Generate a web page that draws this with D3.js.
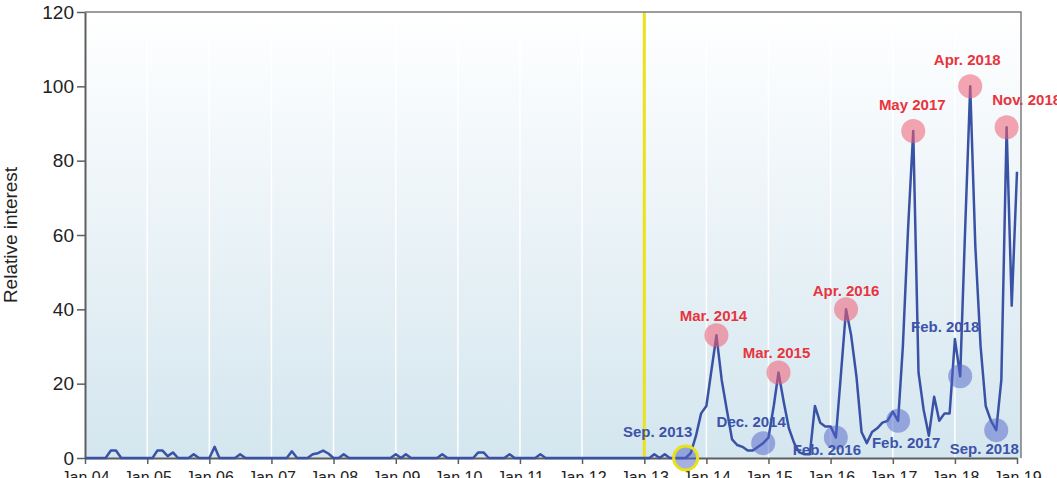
<!DOCTYPE html>
<html>
<head>
<meta charset="utf-8">
<script src="https://cdn.jsdelivr.net/npm/d3@7"></script>
<style>
  body { margin: 0; background: #fff; }
  svg { display: block; font-family: "Liberation Sans", Arial, Helvetica, sans-serif; }
</style>
</head>
<body>
<svg id="chart" width="1057" height="478"></svg>
<script>
// monthly relative interest, Jan 2004 .. Jan 2019
var interest = [
  0, 0, 0, 0, 0, 2, 2, 0, 0, 0, 0, 0,                 // 2004
  0, 0, 2, 2, 0.5, 1.5, 0, 0, 0, 1, 0, 0,             // 2005
  0, 3, 0, 0, 0, 0, 1, 0, 0, 0, 0, 0,                 // 2006
  0, 0, 0, 0, 1.8, 0, 0, 0, 1, 1.3, 2, 1.2,           // 2007
  0, 0, 1, 0, 0, 0, 0, 0, 0, 0, 0, 0,                 // 2008
  1, 0, 1, 0, 0, 0, 0, 0, 0, 1, 0, 0,                 // 2009
  0, 0, 0, 0, 1.5, 1.5, 0, 0, 0, 0, 1, 0,             // 2010
  0, 0, 0, 0, 1, 0, 0, 0, 0, 0, 0, 0,                 // 2011
  0, 0, 0, 0, 0, 0, 0, 0, 0, 0, 0, 0,                 // 2012
  0, 0, 1, 0, 1, 0, 0, 0, 0, 1.3, 6, 12,              // 2013
  14, 24, 33, 21, 13, 5, 3.5, 3, 2, 2, 3, 4,          // 2014
  5.5, 14, 23, 15, 8, 4, 1.5, 1, 1, 14, 9.5, 8.5,     // 2015
  8.5, 5.5, 22, 40, 33, 22, 7, 4, 7, 8, 9.5, 10,      // 2016
  12.5, 10, 30, 62, 88, 23, 13, 6, 16.5, 10, 12, 12,  // 2017
  32, 22, 60, 100, 57, 30, 14, 10, 7.5, 21, 89, 41,   // 2018
  77                                                  // 2019
];

var yTicks = [0, 20, 40, 60, 80, 100, 120];
var xTickLabels = ["Jan 04", "Jan 05", "Jan 06", "Jan 07", "Jan 08", "Jan 09", "Jan 10", "Jan 11",
                   "Jan 12", "Jan 13", "Jan 14", "Jan 15", "Jan 16", "Jan 17", "Jan 18", "Jan 19"];

// highlighted peaks (red) and dips (blue)
var peakLabels = ["Mar. 2014", "Mar. 2015", "Apr. 2016", "May 2017", "Apr. 2018", "Nov. 2018"];
var peakMonths = ["2014-03", "2015-03", "2016-04", "2017-05", "2018-04", "2018-11"];
var dipLabels = ["Sep. 2013", "Dec. 2014", "Feb. 2016", "Feb. 2017", "Feb. 2018", "Sep. 2018"];
var dipMonths = ["2013-09", "2014-12", "2016-02", "2017-02", "2018-02", "2018-09"];
var markerMonth = "2013-01";

// label offsets from the marked point (layout only)
var peakShift = [[-3, -14], [-2, -15], [0, -13], [-1, -21], [-3, -21], [20, -22]];
var dipShift = [[-28, -21], [-12, -16], [-9, 17], [8, 27], [-15, -44], [-12, 24]];

var svg = d3.select("#chart");
var margin = {left: 85, right: 1021, top: 12, bottom: 458};
var parseMonth = d3.timeParse("%Y-%m");
var start = new Date(2004, 0, 1);

var data = interest.map(function(v, i) {
  return {date: d3.timeMonth.offset(start, i), value: v};
});
function valueAt(m) {
  var d = parseMonth(m);
  var i = (d.getFullYear() - 2004) * 12 + d.getMonth();
  return {date: d, value: interest[i]};
}

var x = d3.scaleTime().domain([start, new Date(2019, 0, 1)]).range([margin.left, 1017]);
var y = d3.scaleLinear().domain([0, 120]).range([margin.bottom, margin.top]);
var tickDates = xTickLabels.map(function(l, i) { return new Date(2004 + i, 0, 1); });

// background gradient
var defs = svg.append("defs");
var grad = defs.append("linearGradient").attr("id", "bg").attr("x1", 0).attr("y1", 0).attr("x2", 0).attr("y2", 1);
grad.append("stop").attr("offset", "0%").attr("stop-color", "#ffffff");
grad.append("stop").attr("offset", "100%").attr("stop-color", "#d4e6ef");

svg.append("rect")
  .attr("x", margin.left).attr("y", margin.top)
  .attr("width", margin.right - margin.left).attr("height", margin.bottom - margin.top)
  .attr("fill", "url(#bg)");

// white vertical grid at each year
svg.append("g").selectAll("line").data(tickDates.slice(1, -1)).enter().append("line")
  .attr("x1", function(d) { return x(d); }).attr("x2", function(d) { return x(d); })
  .attr("y1", margin.top).attr("y2", margin.bottom)
  .attr("stroke", "#ffffff").attr("stroke-width", 1.5);

// yellow marker line
svg.append("line")
  .attr("x1", x(parseMonth(markerMonth))).attr("x2", x(parseMonth(markerMonth)))
  .attr("y1", margin.top).attr("y2", margin.bottom)
  .attr("stroke", "#ece21a").attr("stroke-width", 3);

// frame top / right
svg.append("path")
  .attr("d", "M" + margin.left + "," + margin.top + "H" + margin.right + "V" + margin.bottom)
  .attr("fill", "none").attr("stroke", "#7d7d7d").attr("stroke-width", 1.5);

// axes
var yAxis = svg.append("g")
  .attr("transform", "translate(" + margin.left + ",0)")
  .call(d3.axisLeft(y).tickValues(yTicks).tickSize(8).tickSizeOuter(0).tickPadding(3));
var xAxis = svg.append("g")
  .attr("transform", "translate(0," + margin.bottom + ")")
  .call(d3.axisBottom(x).tickValues(tickDates).tickSize(6).tickSizeOuter(0).tickPadding(8)
    .tickFormat(function(d, i) { return xTickLabels[i]; }));

[yAxis, xAxis].forEach(function(a) {
  a.select(".domain").attr("stroke", "#5e5e5e").attr("stroke-width", 2);
  a.selectAll(".tick line").attr("stroke", "#5e5e5e").attr("stroke-width", 1.5);
  a.selectAll(".tick text").attr("fill", "#222").attr("font-family", null);
});
yAxis.selectAll(".tick text").attr("font-size", 19);
xAxis.selectAll(".tick text").attr("font-size", 16);

svg.append("text")
  .attr("transform", "translate(17,235) rotate(-90)")
  .attr("text-anchor", "middle")
  .attr("font-size", 19)
  .attr("fill", "#222")
  .text("Relative interest");

// the series
var line = d3.line()
  .x(function(d) { return x(d.date); })
  .y(function(d) { return y(d.value); });

svg.append("path")
  .datum(data)
  .attr("d", line)
  .attr("fill", "none")
  .attr("stroke", "#3a52a6")
  .attr("stroke-width", 2.5)
  .attr("stroke-linejoin", "round");

// markers
var peaks = peakMonths.map(valueAt);
var dips = dipMonths.map(valueAt);

svg.append("g").selectAll("circle").data(peaks).enter().append("circle")
  .attr("cx", function(d) { return x(d.date); })
  .attr("cy", function(d) { return y(d.value); })
  .attr("r", 12)
  .attr("fill", "#ef5d72").attr("fill-opacity", 0.55);

svg.append("g").selectAll("circle").data(dips).enter().append("circle")
  .attr("cx", function(d) { return x(d.date); })
  .attr("cy", function(d) { return y(d.value); })
  .attr("r", 12)
  .attr("fill", "#4f62c8").attr("fill-opacity", 0.5)
  .attr("stroke", function(d, i) { return i === 0 ? "#e8e21c" : "none"; })
  .attr("stroke-width", 3);

svg.append("g").selectAll("text").data(peaks).enter().append("text")
  .attr("x", function(d, i) { return x(d.date) + peakShift[i][0]; })
  .attr("y", function(d, i) { return y(d.value) + peakShift[i][1]; })
  .attr("text-anchor", "middle")
  .attr("font-size", 15).attr("font-weight", "bold")
  .attr("fill", "#e8343e")
  .text(function(d, i) { return peakLabels[i]; });

svg.append("g").selectAll("text").data(dips).enter().append("text")
  .attr("x", function(d, i) { return x(d.date) + dipShift[i][0]; })
  .attr("y", function(d, i) { return y(d.value) + dipShift[i][1]; })
  .attr("text-anchor", "middle")
  .attr("font-size", 15).attr("font-weight", "bold")
  .attr("fill", "#3d53aa")
  .text(function(d, i) { return dipLabels[i]; });
</script>
</body>
</html>
